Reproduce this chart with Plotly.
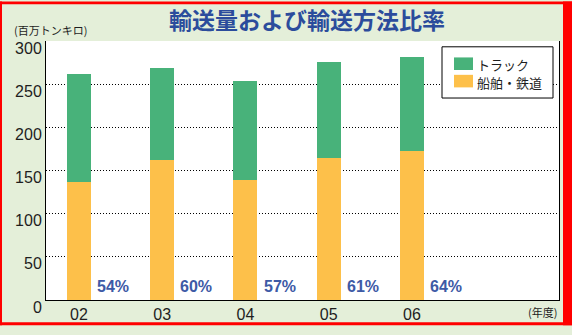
import plotly.graph_objects as go

# Fiscal years and transport volume (million ton-km)
years = ["02", "03", "04", "05", "06"]
ship_rail = [137, 162, 139, 164, 173]   # 船舶・鉄道
truck = [125, 107, 115, 112, 109]       # トラック
ratio_labels = ["54%", "60%", "57%", "61%", "64%"]
y_ticks = [0, 50, 100, 150, 200, 250, 300]

GREEN = "#48b27a"
ORANGE = "#fdc04a"
BG = "#e4efd9"
BORDER = "#ff0000"
TITLE_BLUE = "#2b4c9c"
PCT_BLUE = "#3d5aa6"
INK = "#1e1e1e"

W, H = 572, 335
L, R, T, B = 46, 13, 41, 26
PW, PH = W - L - R, H - T - B

JP = "Noto Sans CJK JP"
NUM = "Liberation Sans, Arial, sans-serif"


def px(x):
    """pixel x -> paper x"""
    return (x - L) / PW


def py(y):
    """pixel y -> paper y"""
    return (H - B - y) / PH


def frame_rect(x0, y0, x1, y1, color):
    return dict(type="rect", xref="paper", yref="paper", layer="above",
                x0=px(x0), x1=px(x1), y0=py(y1), y1=py(y0),
                fillcolor=color, line=dict(width=0))


xs = list(range(len(years)))

fig = go.Figure()
fig.add_trace(go.Bar(x=xs, y=ship_rail, name="船舶・鉄道",
                     marker=dict(color=ORANGE, line=dict(width=0)), width=0.288))
fig.add_trace(go.Bar(x=xs, y=truck, name="トラック",
                     marker=dict(color=GREEN, line=dict(width=0)), width=0.288))

shapes = [
    # red outer frame
    frame_rect(0, 0, W, 3, BORDER),
    frame_rect(0, 332, W, H, BORDER),
    frame_rect(0, 0, 2, H, BORDER),
    frame_rect(563, 0, W, H, BORDER),
    # legend box
    dict(type="rect", xref="paper", yref="paper",
         x0=px(442), x1=px(553), y0=py(100), y1=py(47),
         fillcolor="white", line=dict(color="black", width=1)),
    frame_rect(454, 58, 473, 71, GREEN),
    frame_rect(454, 76, 473, 89, ORANGE),
]

annotations = [
    dict(xref="paper", yref="paper", x=px(475), y=py(65), text="トラック",
         showarrow=False, xanchor="left", yanchor="middle",
         font=dict(family=JP, size=13, color=INK)),
    dict(xref="paper", yref="paper", x=px(475), y=py(84), text="船舶・鉄道",
         showarrow=False, xanchor="left", yanchor="middle",
         font=dict(family=JP, size=13, color=INK)),
    dict(xref="paper", yref="paper", x=px(12), y=py(30), text="(百万トンキロ)",
         showarrow=False, xanchor="left", yanchor="middle",
         font=dict(family=JP, size=11, color=INK)),
    dict(xref="paper", yref="paper", x=px(559), y=py(321), text="(年度)",
         showarrow=False, xanchor="right", yanchor="middle",
         font=dict(family=JP, size=11, color=INK)),
]

# modal share labels beside each bar
for i, lab in enumerate(ratio_labels):
    annotations.append(dict(x=xs[i] + 0.41, y=15.5, text=lab, showarrow=False,
                            xanchor="center", yanchor="middle",
                            font=dict(family=NUM, size=16, color=PCT_BLUE,
                                      weight="bold")))

fig.update_layout(
    width=W, height=H, autosize=False,
    margin=dict(l=L, r=R, t=T, b=B, pad=0),
    paper_bgcolor=BG, plot_bgcolor="white",
    barmode="stack", showlegend=False,
    title=dict(text="輸送量および輸送方法比率", x=307 / W, xref="container",
               xanchor="center", y=1 - 21 / H, yref="container", yanchor="middle",
               font=dict(family=JP, size=23, color=TITLE_BLUE, weight="bold")),
    shapes=shapes, annotations=annotations,
    xaxis=dict(range=[-0.396, 5.766], tickvals=xs, ticktext=years,
               showline=True, linecolor="black", linewidth=1, mirror=False,
               showgrid=False, zeroline=False, ticks="",
               tickfont=dict(family=NUM, size=16, color=INK)),
    yaxis=dict(range=[0, 300], tickvals=y_ticks,
               showline=True, linecolor="black", linewidth=1, mirror=True,
               showgrid=True, gridcolor="black", gridwidth=1, griddash="1px,2px",
               zeroline=False, ticks="", ticklabelshift=7,
               tickfont=dict(family=NUM, size=16, color=INK)),
)

fig.write_html("out.html")
